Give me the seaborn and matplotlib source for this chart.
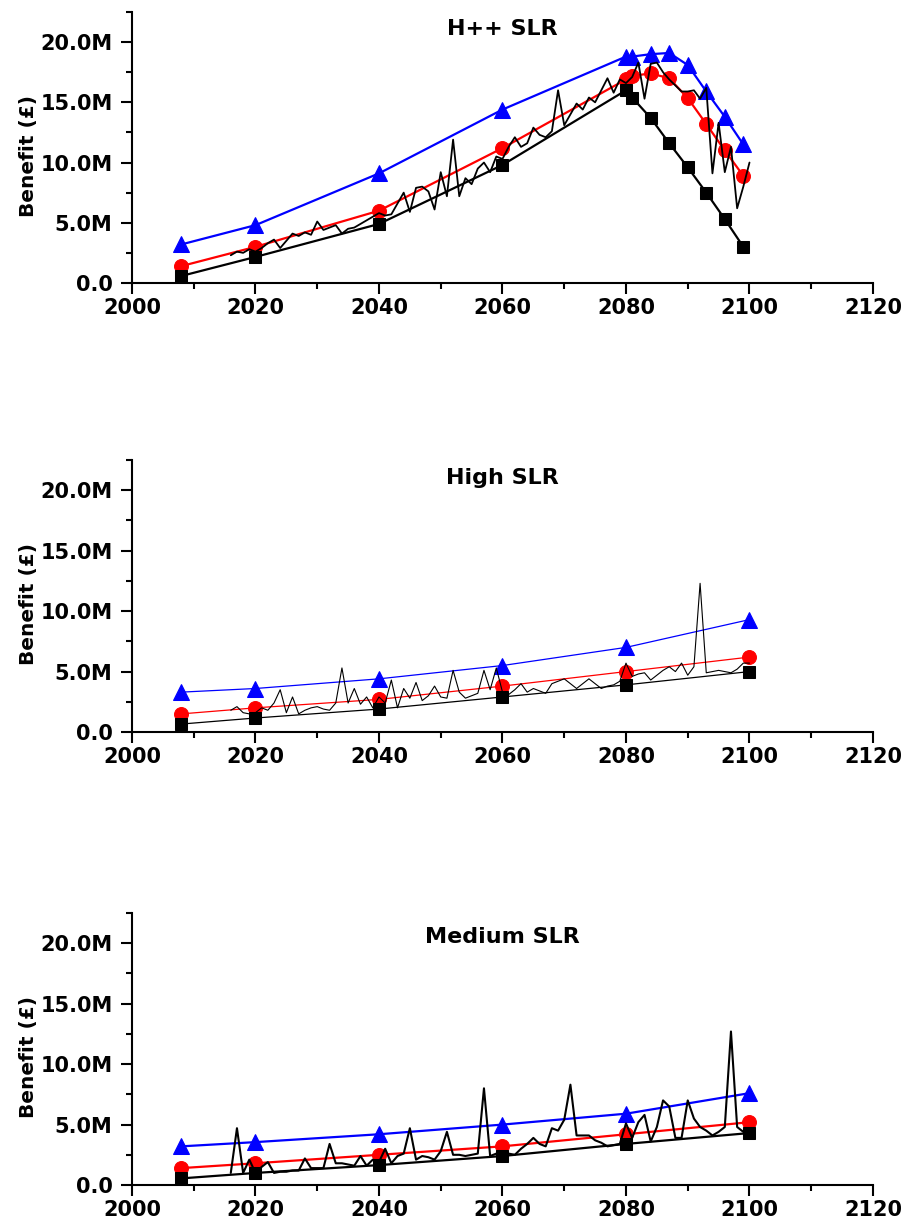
import matplotlib
matplotlib.use("Agg")
import matplotlib.pyplot as plt
import matplotlib.ticker as mticker
import seaborn as sns

# ---------------------------------------------------------------------------
# Data (benefit in millions of pounds)
# ---------------------------------------------------------------------------
annual_years = list(range(2016, 2101))

# H++ SLR scenario
hpp_years = [2008, 2020, 2040, 2060, 2080, 2081, 2084, 2087, 2090, 2093, 2096, 2099]
hpp_low = [0.58, 2.16, 4.9, 9.8, 16.0, 15.4, 13.7, 11.6, 9.6, 7.5, 5.3, 3.0]
hpp_mid = [1.4, 3.0, 6.0, 11.2, 16.9, 17.2, 17.4, 17.0, 15.35, 13.2, 11.0, 8.9]
hpp_high = [3.2, 4.8, 9.1, 14.4, 18.8, 18.8, 19.0, 19.1, 18.1, 15.9, 13.8, 11.5]
hpp_annual = [
    2.3, 2.6, 2.5, 2.8, 2.6, 2.9, 3.3, 3.6, 2.9, 3.5,
    4.1, 3.9, 4.2, 4.0, 5.1, 4.4, 4.6, 4.8, 4.1, 4.5,
    4.6, 4.9, 5.2, 5.5, 5.8, 5.6, 5.7, 6.6, 7.5, 5.9,
    7.9, 8.0, 7.6, 6.1, 9.2, 7.2, 11.9, 7.2, 8.7, 8.2,
    9.5, 10.0, 9.2, 10.5, 10.3, 11.3, 12.1, 11.3, 11.6, 12.9,
    12.3, 12.1, 12.6, 16.0, 13.1, 14.0, 14.9, 14.4, 15.4, 15.0,
    16.0, 17.0, 15.8, 16.9, 16.6, 17.1, 18.3, 15.3, 18.2, 18.3,
    17.5, 16.9, 16.4, 15.9, 15.9, 16.0, 15.3, 16.2, 9.1, 13.3,
    9.2, 11.3, 6.2, 8.0, 10.0,
]

# High SLR scenario
high_years = [2008, 2020, 2040, 2060, 2080, 2100]
high_low = [0.66, 1.16, 1.9, 2.9, 3.9, 5.0]
high_mid = [1.5, 2.0, 2.7, 3.8, 5.0, 6.2]
high_high = [3.3, 3.6, 4.4, 5.5, 7.0, 9.3]
high_annual = [
    1.8, 2.1, 1.6, 1.5, 1.6, 2.0, 1.8, 2.4, 3.5, 1.6,
    2.9, 1.5, 1.8, 2.0, 2.1, 1.9, 1.8, 2.4, 5.3, 2.4,
    3.6, 2.3, 2.9, 2.0, 2.9, 2.4, 4.3, 2.0, 3.6, 2.8,
    4.1, 2.6, 3.0, 3.8, 2.9, 2.8, 5.1, 3.3, 2.8, 3.0,
    3.2, 5.1, 3.5, 5.3, 3.3, 3.1, 3.5, 4.0, 3.3, 3.6,
    3.4, 3.2, 4.0, 4.2, 4.4, 4.0, 3.6, 4.0, 4.4, 4.0,
    3.6, 3.8, 3.9, 4.2, 5.7, 4.6, 4.8, 4.9, 4.3, 4.7,
    5.1, 5.4, 5.0, 5.7, 4.7, 5.4, 12.3, 4.9, 5.0, 5.1,
    5.0, 4.9, 5.2, 5.7, 5.7,
]

# Medium SLR scenario
med_years = [2008, 2020, 2040, 2060, 2080, 2100]
med_low = [0.55, 1.0, 1.65, 2.4, 3.4, 4.3]
med_mid = [1.4, 1.8, 2.5, 3.2, 4.2, 5.2]
med_high = [3.2, 3.55, 4.2, 5.0, 5.9, 7.6]
med_annual = [
    1.0, 4.7, 1.0, 2.1, 1.0, 1.5, 1.9, 1.0, 1.1, 1.1,
    1.2, 1.2, 2.2, 1.4, 1.4, 1.4, 3.4, 1.8, 1.8, 1.7,
    1.6, 2.4, 1.6, 2.1, 1.9, 3.0, 1.8, 2.4, 2.6, 4.7,
    2.1, 2.4, 2.3, 2.1, 2.8, 4.4, 2.5, 2.5, 2.4, 2.5,
    2.6, 8.0, 2.4, 2.6, 2.8, 2.6, 2.5, 3.0, 3.4, 3.9,
    3.4, 3.2, 4.7, 4.5, 5.4, 8.3, 4.1, 4.1, 4.1, 3.7,
    3.5, 3.2, 3.3, 3.4, 5.1, 3.9, 5.2, 5.8, 3.6, 4.8,
    7.0, 6.5, 3.9, 3.9, 7.0, 5.5, 4.8, 4.5, 4.1, 4.4,
    4.8, 12.7, 4.8, 4.4, 4.3,
]

panel_titles = ["H++ SLR", "High SLR", "Medium SLR"]
y_label = "Benefit (£)"
x_ticks = [2000, 2020, 2040, 2060, 2080, 2100, 2120]

# ---------------------------------------------------------------------------
# Styling
# ---------------------------------------------------------------------------
sns.set_style("ticks")
plt.rcParams["font.family"] = ["DejaVu Sans"]
plt.rcParams["font.weight"] = "bold"
plt.rcParams["axes.labelweight"] = "bold"
plt.rcParams["text.color"] = "black"
plt.rcParams["axes.labelcolor"] = "black"
plt.rcParams["xtick.color"] = "black"
plt.rcParams["ytick.color"] = "black"

FS = 15
fig = plt.figure(figsize=(9.04, 12.27), dpi=100)

left, width = 0.146, 0.8197
panel_boxes = [
    (left, 0.7694, width, 0.2208),
    (left, 0.4034, width, 0.2217),
    (left, 0.0342, width, 0.2217),
]

panels = [
    (hpp_years, hpp_low, hpp_mid, hpp_high, hpp_annual, 1.6, 1.3, 0.937),
    (high_years, high_low, high_mid, high_high, high_annual, 0.9, 0.8, 0.934),
    (med_years, med_low, med_mid, med_high, med_annual, 1.6, 1.5, 0.912),
]


def benefit_fmt(v, _pos):
    if abs(v) < 1e-9:
        return "0.0"
    return f"{v / 1e6:.1f}M"


for box, title, (yrs, lo, mid, hi, ann, lw, nlw, ty) in zip(panel_boxes, panel_titles, panels):
    ax = fig.add_axes(box)

    to_pounds = lambda vals: [v * 1e6 for v in vals]

    sns.lineplot(x=yrs, y=to_pounds(hi), ax=ax, color="#0000ff", lw=lw,
                 marker="^", markersize=11, markeredgecolor="#0000ff",
                 estimator=None, sort=False, zorder=3)
    sns.lineplot(x=yrs, y=to_pounds(mid), ax=ax, color="#ff0000", lw=lw,
                 marker="o", markersize=10, markeredgecolor="#ff0000",
                 estimator=None, sort=False, zorder=3)
    sns.lineplot(x=yrs, y=to_pounds(lo), ax=ax, color="black", lw=lw,
                 marker="s", markersize=9, markeredgecolor="black",
                 estimator=None, sort=False, zorder=3)
    sns.lineplot(x=annual_years, y=to_pounds(ann), ax=ax, color="black",
                 lw=nlw, estimator=None, sort=False, zorder=4)

    ax.set_xlim(2000, 2120)
    ax.set_ylim(0, 22.5e6)
    ax.set_xticks(x_ticks)
    ax.xaxis.set_minor_locator(mticker.MultipleLocator(10))
    ax.yaxis.set_major_locator(mticker.MultipleLocator(5e6))
    ax.yaxis.set_minor_locator(mticker.MultipleLocator(2.5e6))
    ax.yaxis.set_major_formatter(mticker.FuncFormatter(benefit_fmt))

    for side in ("top", "right"):
        ax.spines[side].set_visible(False)
    for side in ("left", "bottom"):
        ax.spines[side].set_linewidth(1.5)
        ax.spines[side].set_color("black")

    ax.tick_params(which="major", direction="out", length=8, width=1.5,
                   labelsize=FS, pad=3, colors="black")
    ax.tick_params(axis="y", which="major", pad=6)
    ax.tick_params(which="minor", direction="out", length=4.5, width=1.5,
                   colors="black")
    for lab in ax.get_xticklabels() + ax.get_yticklabels():
        lab.set_fontweight("bold")

    ax.set_xlabel("")
    ax.set_ylabel(y_label, fontsize=14.5, fontweight="bold", color="black")
    ax.yaxis.set_label_coords(-0.127, 0.47)

    ax.text(0.5, ty, title, transform=ax.transAxes, ha="center", va="center",
            fontsize=16, fontweight="bold", color="black")

fig.savefig("out.png", dpi=100)
